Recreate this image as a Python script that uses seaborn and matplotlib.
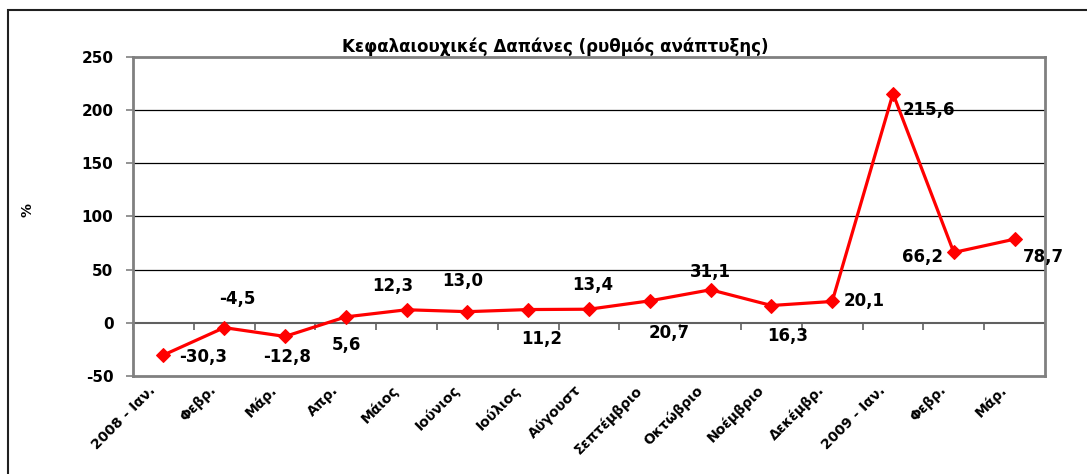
import pandas as pd
import matplotlib
matplotlib.use("Agg")
import matplotlib.pyplot as plt
import matplotlib.transforms as mtransforms
from matplotlib.patches import Rectangle
import seaborn as sns

# chart data
months = ["2008 - Ιαν.", "Φεβρ.", "Μάρ.", "Απρ.", "Μάιος", "Ιούνιος", "Ιούλιος",
          "Αύγουστ", "Σεπτέμβριο", "Οκτώβριο", "Νοέμβριο", "Δεκέμβρ.",
          "2009 - Ιαν.", "Φεβρ.", "Μάρ."]
growth = [-30.3, -4.5, -12.8, 5.6, 12.3, 10.5, 12.5, 12.8, 20.7, 31.1, 16.3, 20.1,
          215.6, 66.2, 78.7]
value_labels = ["-30,3", "-4,5", "-12,8", "5,6", "12,3", "13,0", "11,2", "13,4",
                "20,7", "31,1", "16,3", "20,1", "215,6", "66,2", "78,7"]
y_ticks = [-50, 0, 50, 100, 150, 200, 250]

# label offsets from each point, in pixels
label_offsets = [(40, -2), (13, 29), (2, -21), (1, -28), (-14, 24), (-5, 31),
                 (13, -29), (4, 24), (19, -32), (0, 18), (16, -30), (32, 0),
                 (36, -16), (-31, -5), (29, -18)]

sns.set_theme(style="white")
plt.rcParams["font.family"] = ["DejaVu Sans"]
plt.rcParams["text.color"] = "black"
plt.rcParams["xtick.color"] = "black"
plt.rcParams["ytick.color"] = "black"

df = pd.DataFrame({"pos": range(len(months)), "growth": growth})

fig = plt.figure(figsize=(10.87, 4.74), dpi=100)
ax = fig.add_axes([133 / 1087, 1 - 376 / 474, (1045 - 133) / 1087, (376 - 57) / 474])

sns.lineplot(data=df, x="pos", y="growth", ax=ax, color="#FF0000", linewidth=2.3,
             marker="D", markersize=7.5, markeredgecolor="#FF0000", zorder=5)

ax.set_xlim(-0.5, len(months) - 0.5)
ax.set_ylim(-50, 250)
ax.set_yticks(y_ticks)
ax.set_yticklabels([str(t) for t in y_ticks], fontsize=11, fontweight="bold")
ax.tick_params(axis="y", direction="out", length=5, width=1.2, color="#808080",
               labelcolor="black", pad=9, left=True)

# gridlines
for t in y_ticks[2:-1]:
    ax.axhline(t, color="black", linewidth=0.9, zorder=1)

for sp in ax.spines.values():
    sp.set_color("#808080")
    sp.set_linewidth(2)

# category labels at the bottom
ax.set_xticks(range(len(months)))
ax.set_xticklabels(months, rotation=45, ha="right", rotation_mode="anchor",
                   fontsize=10, fontweight="bold")
ax.tick_params(axis="x", length=0, pad=5, labelcolor="black")
shift = mtransforms.ScaledTranslation(-15 / 100, 0, fig.dpi_scale_trans)
for lbl in ax.get_xticklabels():
    lbl.set_transform(lbl.get_transform() + shift)
ax.set_xlabel("")
ax.set_ylabel("")

# zero line with category boundary ticks
zero_ax = ax.secondary_xaxis(50 / 300)
zero_ax.set_xticks([i - 0.5 for i in range(len(months) + 1)])
zero_ax.set_xticklabels([])
zero_ax.tick_params(direction="out", length=5, width=1.2, color="#606060")
zero_ax.spines["bottom"].set_color("#606060")
zero_ax.spines["bottom"].set_linewidth(1.5)

# value labels
for i, (v, txt) in enumerate(zip(growth, value_labels)):
    dx, dy = label_offsets[i]
    ax.annotate(txt, (i, v), xytext=(dx, dy), textcoords="offset pixels",
                ha="center", va="center", fontsize=12, fontweight="bold",
                color="black", zorder=6)

fig.text(555 / 1087, 1 - 47 / 474, "Κεφαλαιουχικές Δαπάνες (ρυθμός ανάπτυξης)",
         ha="center", va="center", fontsize=12, fontweight="bold", color="black")
fig.text(27 / 1087, 1 - 210 / 474, "%", ha="center", va="center", rotation=90,
         fontsize=10, fontweight="bold", color="black")

# outer chart frame
fig.patches.append(Rectangle((8 / 1087, -0.1), 1.2, 1 - 10 / 474 + 0.1,
                             transform=fig.transFigure, fill=False,
                             edgecolor="#202020", linewidth=1.5))

fig.savefig("out.png", dpi=100)
